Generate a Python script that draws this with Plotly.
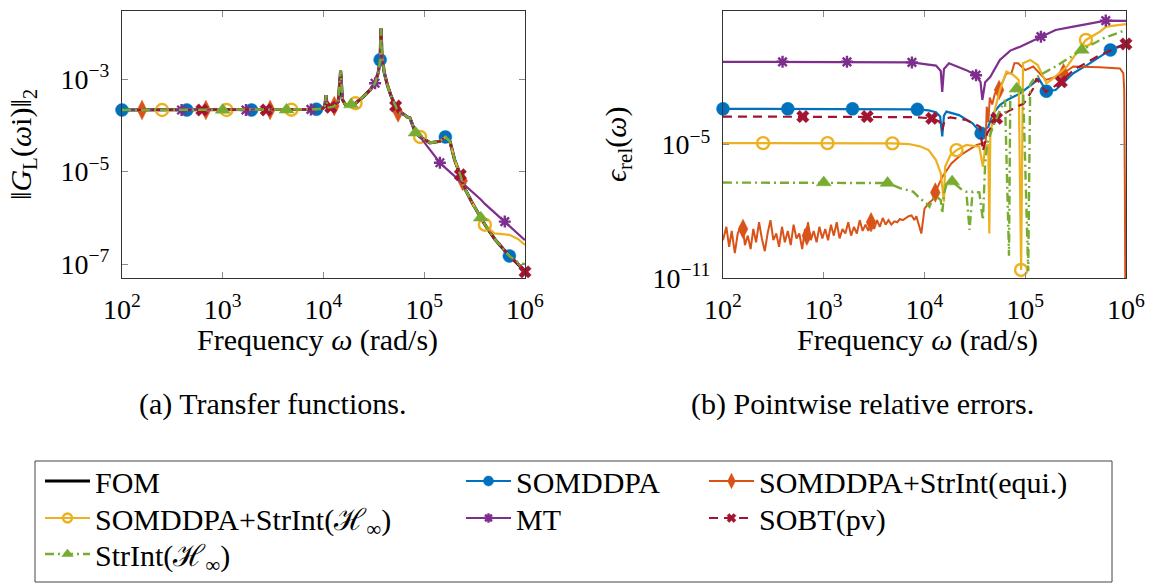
import plotly.graph_objects as go

W, H = 1154, 585
FONT = "Liberation Serif, DejaVu Serif, serif"


def px(x):
    return x / W


def py(y):
    return 1 - y / H


# ---------------- colours ----------------
C_FOM = "#000000"
C_BLUE = "#0072BD"
C_ORANGE = "#D95319"
C_YELLOW = "#EDB120"
C_PURPLE = "#7E2F8E"
C_RED = "#A2142F"
C_GREEN = "#77AC30"

names = ["FOM", "SOMDDPA", "SOMDDPA+StrInt(equi.)", "SOMDDPA+StrInt(ℋ<sub>∞</sub>)",
         "MT", "SOBT(pv)", "StrInt(ℋ<sub>∞</sub>)"]

# ---------------- marker frequencies (shared by both panels) ----------------
mk_somddpa = [100, 440, 1930, 8500, 3.65e4, 1.62e5, 7.0e5]
mk_equi = [158, 680, 2950, 1.28e4, 5.5e4, 2.4e5]
mk_hinf = [250, 1090, 4800, 2.08e4, 9.1e4, 4.0e5]
mk_mt = [390, 1700, 7500, 3.25e4, 1.43e5, 6.3e5]
mk_sobt = [620, 2700, 1.18e4, 5.2e4, 2.28e5, 1.0e6]
mk_strint = [1000, 4300, 1.88e4, 8.2e4, 3.64e5]

# ---------------- (a) transfer functions ----------------
tf_w = [100, 158, 250, 390, 440, 620, 680, 1000, 1090, 1700,
        1930, 2700, 2950, 4300, 4800, 7500, 8500, 9800,
        1.03e4, 1.06e4, 1.09e4, 1.18e4, 1.28e4, 1.4e4, 1.48e4, 1.54e4, 1.65e4, 1.88e4,
        2.08e4, 2.5e4, 2.9e4, 3.25e4, 3.5e4, 3.65e4, 3.72e4, 3.8e4, 4.0e4, 4.3e4,
        4.7e4, 5.2e4, 5.5e4, 6.2e4, 6.8e4, 7.2e4, 7.6e4, 8.2e4, 9.1e4, 1.14e5,
        1.43e5, 1.62e5, 1.8e5, 2.0e5, 2.28e5, 2.4e5, 2.5e5, 3.0e5, 3.64e5, 4.0e5,
        5.0e5, 6.3e5, 7.0e5, 8.5e5, 1.0e6]

tf_fom = [2.14e-4, 2.14e-4, 2.14e-4, 2.14e-4, 2.14e-4, 2.14e-4, 2.14e-4, 2.14e-4, 2.14e-4, 2.14e-4,
          2.14e-4, 2.15e-4, 2.15e-4, 2.16e-4, 2.17e-4, 2.2e-4, 2.22e-4, 2.3e-4,
          2.6e-4, 4.5e-4, 2.4e-4, 2.45e-4, 2.6e-4, 3.2e-4, 1.5e-3, 3.6e-4, 2.8e-4, 2.8e-4,
          3.0e-4, 4.2e-4, 5.8e-4, 8.1e-4, 1.4e-3, 2.6e-3, 1.25e-2, 3.5e-3, 1.4e-3, 7.5e-4,
          4.2e-4, 2.6e-4, 1.9e-4, 1.75e-4, 1.5e-4, 1.45e-4, 1.05e-4, 6.9e-5, 5.6e-5, 4.2e-5,
          4.5e-5, 5.6e-5, 4.5e-5, 1.8e-5, 8.5e-6, 6.3e-6, 4.5e-6, 2.1e-6, 1.0e-6, 7.1e-7,
          3.5e-7, 2.0e-7, 1.5e-7, 1.0e-7, 7.0e-8]

tf_somddpa = [2.14e-4, 2.14e-4, 2.14e-4, 2.14e-4, 2.14e-4, 2.14e-4, 2.14e-4, 2.14e-4, 2.14e-4, 2.14e-4,
              2.14e-4, 2.15e-4, 2.15e-4, 2.16e-4, 2.17e-4, 2.2e-4, 2.22e-4, 2.3e-4,
              2.6e-4, 4.5e-4, 2.4e-4, 2.45e-4, 2.6e-4, 3.2e-4, 1.5e-3, 3.6e-4, 2.8e-4, 2.8e-4,
              3.0e-4, 4.2e-4, 5.8e-4, 8.1e-4, 1.4e-3, 2.6e-3, 1.25e-2, 3.5e-3, 1.4e-3, 7.5e-4,
              4.2e-4, 2.6e-4, 1.9e-4, 1.75e-4, 1.5e-4, 1.45e-4, 1.05e-4, 6.9e-5, 5.6e-5, 4.2e-5,
              4.5e-5, 5.6e-5, 4.5e-5, 1.8e-5, 8.5e-6, 6.3e-6, 4.5e-6, 2.1e-6, 1.0e-6, 7.1e-7,
              3.5e-7, 2.0e-7, 1.5e-7, 1.0e-7, 7.0e-8]

tf_equi = [2.14e-4, 2.14e-4, 2.14e-4, 2.14e-4, 2.14e-4, 2.14e-4, 2.14e-4, 2.14e-4, 2.14e-4, 2.14e-4,
           2.14e-4, 2.15e-4, 2.15e-4, 2.16e-4, 2.17e-4, 2.2e-4, 2.22e-4, 2.3e-4,
           2.6e-4, 4.5e-4, 2.4e-4, 2.45e-4, 2.6e-4, 3.2e-4, 1.5e-3, 3.6e-4, 2.8e-4, 2.8e-4,
           3.0e-4, 4.2e-4, 5.8e-4, 8.1e-4, 1.4e-3, 2.6e-3, 1.25e-2, 3.5e-3, 1.4e-3, 7.5e-4,
           4.2e-4, 2.6e-4, 1.9e-4, 1.75e-4, 1.5e-4, 1.45e-4, 1.05e-4, 6.9e-5, 5.6e-5, 4.2e-5,
           4.5e-5, 5.6e-5, 4.5e-5, 1.8e-5, 8.5e-6, 6.3e-6, 4.5e-6, 2.1e-6, 1.0e-6, 7.1e-7,
           3.5e-7, 2.0e-7, 1.5e-7, 1.0e-7, 7.0e-8]

tf_hinf = [2.14e-4, 2.14e-4, 2.14e-4, 2.14e-4, 2.14e-4, 2.14e-4, 2.14e-4, 2.14e-4, 2.14e-4, 2.14e-4,
           2.14e-4, 2.15e-4, 2.15e-4, 2.16e-4, 2.17e-4, 2.2e-4, 2.22e-4, 2.3e-4,
           2.6e-4, 4.5e-4, 2.4e-4, 2.45e-4, 2.6e-4, 3.2e-4, 1.5e-3, 3.6e-4, 2.8e-4, 2.8e-4,
           3.0e-4, 4.2e-4, 5.8e-4, 8.1e-4, 1.4e-3, 2.6e-3, 1.25e-2, 3.5e-3, 1.4e-3, 7.5e-4,
           4.2e-4, 2.6e-4, 1.9e-4, 1.75e-4, 1.5e-4, 1.45e-4, 1.05e-4, 6.9e-5, 5.6e-5, 4.2e-5,
           4.5e-5, 5.6e-5, 4.5e-5, 1.8e-5, 8.5e-6, 6.3e-6, 4.5e-6, 2.1e-6, 1.0e-6, 7.1e-7,
           4.6e-7, 4.4e-7, 4.3e-7, 3.5e-7, 2.6e-7]

tf_mt = [2.14e-4, 2.14e-4, 2.14e-4, 2.14e-4, 2.14e-4, 2.14e-4, 2.14e-4, 2.14e-4, 2.14e-4, 2.14e-4,
         2.14e-4, 2.15e-4, 2.15e-4, 2.16e-4, 2.17e-4, 2.2e-4, 2.22e-4, 2.3e-4,
         2.6e-4, 4.5e-4, 2.4e-4, 2.45e-4, 2.6e-4, 3.2e-4, 1.5e-3, 3.6e-4, 2.8e-4, 2.8e-4,
         3.0e-4, 4.2e-4, 5.8e-4, 8.1e-4, 1.4e-3, 2.6e-3, 1.25e-2, 3.5e-3, 1.4e-3, 7.5e-4,
         4.2e-4, 2.6e-4, 1.9e-4, 1.75e-4, 1.5e-4, 1.45e-4, 1.05e-4, 6.9e-5, 5.6e-5, 3.0e-5,
         1.55e-5, 1.2e-5, 9.8e-6, 7.9e-6, 6.2e-6, 5.6e-6, 5.2e-6, 3.6e-6, 2.5e-6, 2.0e-6,
         1.3e-6, 8.3e-7, 6.8e-7, 4.6e-7, 3.3e-7]

tf_sobt = [2.14e-4, 2.14e-4, 2.14e-4, 2.14e-4, 2.14e-4, 2.14e-4, 2.14e-4, 2.14e-4, 2.14e-4, 2.14e-4,
           2.14e-4, 2.15e-4, 2.15e-4, 2.16e-4, 2.17e-4, 2.2e-4, 2.22e-4, 2.3e-4,
           2.6e-4, 4.5e-4, 2.4e-4, 2.45e-4, 2.6e-4, 3.2e-4, 1.5e-3, 3.6e-4, 2.8e-4, 2.8e-4,
           3.0e-4, 4.2e-4, 5.8e-4, 8.1e-4, 1.4e-3, 2.6e-3, 1.25e-2, 3.5e-3, 1.4e-3, 7.5e-4,
           4.2e-4, 2.6e-4, 1.9e-4, 1.75e-4, 1.5e-4, 1.45e-4, 1.05e-4, 6.9e-5, 5.6e-5, 4.2e-5,
           4.5e-5, 5.6e-5, 4.5e-5, 1.8e-5, 8.5e-6, 6.3e-6, 4.5e-6, 2.1e-6, 1.0e-6, 7.1e-7,
           3.5e-7, 2.0e-7, 1.5e-7, 1.0e-7, 6.8e-8]

tf_strint = [2.14e-4, 2.14e-4, 2.14e-4, 2.14e-4, 2.14e-4, 2.14e-4, 2.14e-4, 2.14e-4, 2.14e-4, 2.14e-4,
             2.14e-4, 2.15e-4, 2.15e-4, 2.16e-4, 2.17e-4, 2.2e-4, 2.22e-4, 2.3e-4,
             2.6e-4, 4.5e-4, 2.4e-4, 2.45e-4, 2.6e-4, 3.2e-4, 1.5e-3, 3.6e-4, 2.8e-4, 2.8e-4,
             3.0e-4, 4.2e-4, 5.8e-4, 8.1e-4, 1.4e-3, 2.6e-3, 1.25e-2, 3.5e-3, 1.4e-3, 7.5e-4,
             4.2e-4, 2.6e-4, 1.9e-4, 1.75e-4, 1.5e-4, 1.45e-4, 1.05e-4, 6.9e-5, 5.6e-5, 4.2e-5,
             4.5e-5, 5.6e-5, 4.5e-5, 1.8e-5, 8.5e-6, 6.3e-6, 4.5e-6, 2.1e-6, 1.0e-6, 7.1e-7,
             3.5e-7, 2.0e-7, 1.5e-7, 1.1e-7, 1.0e-7]

# ---------------- (b) pointwise relative errors ----------------
er_somddpa_w = [100, 440, 1930, 5000, 8500, 1.1e4, 1.3e4, 1.43e4, 1.5e4, 1.56e4, 1.65e4, 2.2e4, 3.0e4,
                3.65e4, 4.3e4, 4.8e4, 5.6e4, 6.6e4, 7.6e4, 8.9e4, 1.2e5, 1.36e5, 1.62e5, 2.0e5, 3.0e5,
                4.1e5, 7.0e5, 1.0e6]
er_somddpa = [4.0e-4, 4.0e-4, 4.0e-4, 3.9e-4, 3.8e-4, 3.4e-4, 2.8e-4, 1.8e-4, 2.3e-5, 2.0e-4, 3.0e-4,
              2.1e-4, 8.9e-5, 3.2e-5, 6.3e-5, 2.5e-4, 6.0e-4, 1.0e-3, 1.4e-3, 2.0e-3, 5.6e-3, 9.3e-3,
              2.5e-3, 2.8e-3, 1.6e-2, 3.7e-2, 0.178, 0.355]

er_equi_w = [100, 108, 115, 122, 131, 140, 152, 158, 165, 176, 188, 200, 213, 228, 243, 260, 277, 296,
             316, 338, 360, 385, 411, 440, 470, 502, 536, 572, 611, 652, 680, 697, 744, 795, 849, 906,
             968, 1034, 1104, 1179, 1259, 1345, 1436, 1534, 1638, 1750, 1868, 1995, 2131, 2276, 2431,
             2596, 2772, 2950, 3162, 3377, 3606, 3851, 4113, 4392, 4691, 5010, 5350, 5714, 6102, 6517,
             6960, 7433, 7938, 8300, 8700, 9100, 9300,
             1.0e4, 1.1e4, 1.2e4, 1.28e4, 1.5e4, 1.85e4, 2.3e4, 3.3e4, 3.7e4, 4.05e4, 4.15e4, 4.3e4,
             4.45e4, 4.7e4, 5.0e4, 5.5e4, 6.5e4, 7.3e4, 7.8e4, 8.5e4, 1.0e5, 1.2e5, 1.6e5, 2.0e5,
             2.4e5, 3.0e5, 5.5e5, 8.7e5, 9.4e5, 9.6e5, 9.75e5, 9.85e5]
er_equi = [5e-10, 2e-9, 2.5e-10, 1.3e-9, 1.3e-10, 1e-9, 2.5e-9, 1.6e-9, 3e-10, 8e-10, 2e-10, 1.6e-9,
           4e-10, 3.2e-9, 6e-10, 1.6e-10, 1e-9, 4e-9, 5e-10, 1e-9, 2.5e-10, 2e-9, 4e-10, 1.3e-9, 3e-10,
           2.5e-9, 6e-10, 1e-9, 2e-10, 1.6e-9, 8e-10, 3.2e-9, 5e-10, 1.3e-9, 4e-10, 2e-9, 6e-10,
           1.6e-9, 5e-10, 2.5e-9, 8e-10, 3.2e-9, 6e-10, 1.6e-9, 1e-9, 3.2e-9, 8e-10, 2e-9, 1e-9, 4e-9,
           1.3e-9, 2.5e-9, 1.3e-9, 3.2e-9, 1.6e-9, 4e-9, 2e-9, 5e-9, 2.5e-9, 4e-9, 2.5e-9, 3.5e-9,
           3.2e-9, 4.5e-9, 4e-9, 5e-9, 6e-9, 6.5e-9, 4e-9, 6e-9, 2.5e-9, 1.3e-9, 1e-9,
           1.3e-8, 2.3e-8, 3.2e-8, 7e-8, 3.5e-7, 1.4e-6, 3.4e-6, 9.5e-6, 1.1e-5, 1.3e-5, 5e-4, 1e-4,
           1.3e-3, 6.3e-4, 2e-3, 2.8e-3, 1.6e-2, 1.6e-2, 4.5e-2, 4.5e-2, 2.2e-2, 3.2e-2, 8e-3, 1.1e-2,
           1.6e-2, 3.2e-2, 3.0e-2, 2.6e-2, 1.6e-2, 3e-3, 1e-7, 1e-12]

er_hinf_w = [100, 250, 1090, 4800, 7000, 9000, 1.1e4, 1.3e4, 1.45e4, 1.56e4, 1.6e4, 1.8e4, 2.08e4,
             2.6e4, 3.5e4, 3.8e4, 4.0e4, 4.3e4, 4.4e4, 4.5e4, 4.8e4, 5.6e4, 6.5e4, 7.6e4, 8.6e4, 9.1e4,
             9.5e4, 1.12e5, 1.33e5, 1.62e5, 1.8e5, 2.6e5, 4.0e5, 5.5e5, 6.4e5, 1.0e6]
er_hinf = [1.15e-5, 1.15e-5, 1.15e-5, 1.12e-5, 1.05e-5, 8.3e-6, 5.6e-6, 2.0e-6, 5e-7, 2.7e-8, 1e-6,
           3.2e-6, 5.6e-6, 9.5e-6, 7.9e-6, 1e-6, 8e-6, 1e-5, 1e-9, 2.5e-5, 1.8e-4, 2.8e-3, 1.9e-2,
           1.35e-2, 8e-3, 2.3e-11, 4.5e-2, 6.3e-2, 3.7e-2, 5.6e-3, 7.9e-3, 3.2e-2, 0.5, 1.17, 2.0, 2.6]

er_mt_w = [100, 390, 1700, 5000, 7500, 1.05e4, 1.3e4, 1.45e4, 1.5e4, 1.56e4, 1.75e4, 2.6e4, 3.25e4,
           3.6e4, 3.75e4, 4.0e4, 4.5e4, 5.6e4, 6.6e4, 7.1e4, 8.9e4, 1.43e5, 2.0e5, 3.0e5, 6.3e5, 1.0e6]
er_mt = [5.2e-2, 5.2e-2, 5.2e-2, 5.1e-2, 4.9e-2, 4.0e-2, 3.5e-2, 2.0e-2, 2.3e-3, 2.5e-2, 4.5e-2,
         2.2e-2, 1.3e-2, 6.3e-3, 1.0e-3, 6.3e-3, 1.1e-2, 6.3e-2, 0.126, 0.166, 0.25, 0.70, 1.4, 2.0,
         3.7, 3.6]

er_sobt_w = [100, 620, 2700, 8000, 1.18e4, 1.4e4, 1.5e4, 1.6e4, 1.8e4, 2.6e4, 3.55e4, 3.8e4, 4.2e4,
             5.2e4, 7.1e4, 9.7e4, 1.2e5, 1.29e5, 1.6e5, 2.28e5, 3.0e5, 5.5e5, 1.0e6]
er_sobt = [1.8e-4, 1.8e-4, 1.8e-4, 1.7e-4, 1.5e-4, 1.1e-4, 4.5e-5, 1.4e-4, 1.65e-4, 1.26e-4, 6.3e-5,
           5e-6, 3.2e-5, 1.5e-4, 3.5e-4, 7e-4, 3.3e-3, 9.3e-3, 2.3e-3, 6.6e-3, 2.2e-2, 0.105, 0.33]

er_strint_w = [100, 1000, 4300, 5700, 7700, 9000, 1.04e4, 1.12e4, 1.2e4, 1.31e4, 1.45e4, 1.5e4,
               1.56e4, 1.65e4, 1.88e4, 2.3e4, 2.6e4, 2.8e4, 3.0e4, 3.5e4, 3.8e4, 4.0e4, 4.2e4, 4.8e4,
               5.6e4, 6.3e4, 6.9e4, 7.1e4, 8.2e4, 9.5e4, 1.07e5, 1.12e5, 1.2e5, 1.41e5, 2.0e5, 3.64e5,
               6.0e5, 1.0e6]
er_strint = [1.95e-7, 1.95e-7, 1.85e-7, 1.1e-7, 7.6e-8, 3.8e-8, 2.3e-8, 1.6e-8, 3.5e-8, 4.6e-8,
             3.2e-8, 8e-9, 6e-8, 1.55e-7, 2.15e-7, 1e-7, 7.6e-8, 1.45e-9, 7.6e-8, 7e-8, 4e-9, 1.4e-6,
             1.15e-5, 6.5e-5, 3.5e-4, 1e-3, 1e-10, 1.4e-3, 3.2e-3, 4e-3, 2e-11, 5e-3, 8e-3, 1.35e-2,
             3.2e-2, 0.178, 0.6, 1.4]

x_ticks = [1e2, 1e3, 1e4, 1e5, 1e6]
x_ticktext = ["10<sup>2</sup>", "10<sup>3</sup>", "10<sup>4</sup>", "10<sup>5</sup>", "10<sup>6</sup>"]
tf_yticks = [1e-7, 1e-5, 1e-3]
tf_yticktext = ["10<sup>−7</sup>", "10<sup>−5</sup>", "10<sup>−3</sup>"]
er_yticks = [1e-11, 1e-5, 1e1]
er_yticktext = ["10<sup>−11</sup>", "10<sup>−5</sup>", "10<sup>1</sup>"]

# ---------------- styles ----------------
styles = {
    "FOM": dict(color=C_FOM, width=3.2, dash="solid", symbol=None, size=0, open=False),
    "SOMDDPA": dict(color=C_BLUE, width=2.2, dash="solid", symbol="circle", size=13, open=False),
    "EQUI": dict(color=C_ORANGE, width=2.0, dash="solid", symbol="diamond-tall", size=14, open=False),
    "HINF": dict(color=C_YELLOW, width=2.2, dash="solid", symbol="circle-open", size=12, open=True),
    "MT": dict(color=C_PURPLE, width=2.2, dash="solid", symbol="asterisk-open", size=10, open=True),
    "SOBT": dict(color=C_RED, width=2.2, dash="9px,6px", symbol="x", size=11, open=False),
    "STRINT": dict(color=C_GREEN, width=2.4, dash="9px,4px,2px,4px", symbol="triangle-up", size=13,
                   open=False),
}

fig = go.Figure()


def marker_dict(st, size):
    if st["open"]:
        return dict(symbol=st["symbol"], size=size, color=st["color"],
                    line=dict(color=st["color"], width=2.4))
    return dict(symbol=st["symbol"], size=size, color=st["color"],
                line=dict(color=st["color"], width=0.5))


def add_series(xa, ya, w, v, mk, key):
    st = styles[key]
    fig.add_trace(go.Scatter(x=w, y=v, mode="lines", xaxis=xa, yaxis=ya,
                             line=dict(color=st["color"], width=st["width"], dash=st["dash"]),
                             showlegend=False, hoverinfo="skip"))
    if mk:
        idx = [w.index(f) for f in mk]
        fig.add_trace(go.Scatter(x=[w[i] for i in idx], y=[v[i] for i in idx], mode="markers",
                                 xaxis=xa, yaxis=ya, marker=marker_dict(st, st["size"]),
                                 cliponaxis=False, showlegend=False, hoverinfo="skip"))


# panel (a)
add_series("x", "y", tf_w, tf_fom, None, "FOM")
add_series("x", "y", tf_w, tf_somddpa, mk_somddpa, "SOMDDPA")
add_series("x", "y", tf_w, tf_equi, mk_equi, "EQUI")
add_series("x", "y", tf_w, tf_hinf, mk_hinf, "HINF")
add_series("x", "y", tf_w, tf_mt, mk_mt, "MT")
add_series("x", "y", tf_w, tf_sobt, mk_sobt, "SOBT")
add_series("x", "y", tf_w, tf_strint, mk_strint, "STRINT")

# panel (b)
add_series("x2", "y2", er_somddpa_w, er_somddpa, mk_somddpa, "SOMDDPA")
add_series("x2", "y2", er_equi_w, er_equi, mk_equi, "EQUI")
add_series("x2", "y2", er_hinf_w, er_hinf, mk_hinf, "HINF")
add_series("x2", "y2", er_mt_w, er_mt, mk_mt, "MT")
add_series("x2", "y2", er_sobt_w, er_sobt, mk_sobt, "SOBT")
add_series("x2", "y2", er_strint_w, er_strint, mk_strint, "STRINT")

# legend entries (one legend per cell of the 3-column box)
legend_keys = ["FOM", "SOMDDPA", "EQUI", "HINF", "MT", "SOBT", "STRINT"]
legend_sizes = {"FOM": 0, "SOMDDPA": 10, "EQUI": 11, "HINF": 9, "MT": 8, "SOBT": 8, "STRINT": 10}
col_x = [40, 461, 704]
row_y = [481, 518, 554]
legend_ids = ["legend", "legend2", "legend3", "legend4", "legend5", "legend6", "legend7"]
legend_layout = {}
for i, key in enumerate(legend_keys):
    st = styles[key]
    mode = "lines" if st["symbol"] is None else "lines+markers"
    kw = dict(x=[None], y=[None], mode=mode, name=names[i], legend=legend_ids[i],
              line=dict(color=st["color"], width=min(st["width"], 3.0), dash=st["dash"]),
              xaxis="x", yaxis="y", hoverinfo="skip")
    if st["symbol"] is not None:
        kw["marker"] = marker_dict(st, legend_sizes[key])
    fig.add_trace(go.Scatter(**kw))
    r, c = divmod(i, 3)
    legend_layout[legend_ids[i]] = dict(
        x=px(col_x[c]), y=py(row_y[r]), xanchor="left", yanchor="middle",
        bgcolor="rgba(0,0,0,0)", borderwidth=0, itemwidth=45,
        font=dict(family=FONT, size=30, color="black"), itemclick=False, itemdoubleclick=False)

axis_common = dict(type="log", showgrid=False, zeroline=False, showline=True, linecolor="#333333",
                   linewidth=1, mirror="allticks", ticks="inside", ticklen=6, tickcolor="#8a8a8a",
                   tickwidth=1, tickfont=dict(family=FONT, size=28, color="black"))

fig.update_layout(
    width=W, height=H, margin=dict(l=0, r=0, t=0, b=0, autoexpand=False),
    paper_bgcolor="white", plot_bgcolor="white",
    xaxis=dict(axis_common, domain=[px(122), px(525)], range=[2, 6], anchor="y",
               tickvals=x_ticks, ticktext=x_ticktext, ticklabelstandoff=6),
    yaxis=dict(axis_common, domain=[py(278), py(11)], range=[-7.3, -1.53], anchor="x",
               tickvals=tf_yticks, ticktext=tf_yticktext, ticklabelstandoff=6),
    xaxis2=dict(axis_common, domain=[px(723), px(1126)], range=[2, 6], anchor="y2",
                tickvals=x_ticks, ticktext=x_ticktext, ticklabelstandoff=6),
    yaxis2=dict(axis_common, domain=[py(278), py(11)], range=[-11, 1], anchor="x2",
                tickvals=er_yticks, ticktext=er_yticktext, ticklabelstandoff=6),
    showlegend=True,
    **legend_layout,
)

ann_font = dict(family=FONT, size=30, color="black")
annotations = [
    dict(text="‖<i>G</i><sub>L</sub>(<i>ω</i>i)‖<sub>2</sub>", x=px(23), y=py(145), textangle=-90),
    dict(text="<i>ϵ</i><sub>rel</sub>(<i>ω</i>)", x=px(618), y=py(145), textangle=-90),
    dict(text="Frequency <i>ω</i> (rad/s)", x=px(317), y=py(340)),
    dict(text="Frequency <i>ω</i> (rad/s)", x=px(918), y=py(340)),
    dict(text="(a) Transfer functions.", x=px(272), y=py(404)),
    dict(text="(b) Pointwise relative errors.", x=px(862), y=py(404)),
]
for a in annotations:
    a.update(xref="paper", yref="paper", showarrow=False, xanchor="center", yanchor="middle",
             font=ann_font)
fig.update_layout(annotations=annotations)

fig.add_shape(type="rect", xref="paper", yref="paper", x0=px(35), x1=px(1112), y0=py(582), y1=py(461),
              line=dict(color="#444444", width=1), fillcolor="rgba(0,0,0,0)", layer="above")

fig.write_html("out.html", config={"displayModeBar": False, "staticPlot": True},
               post_script="document.body.style.margin='0px';document.body.style.overflow='hidden';")
